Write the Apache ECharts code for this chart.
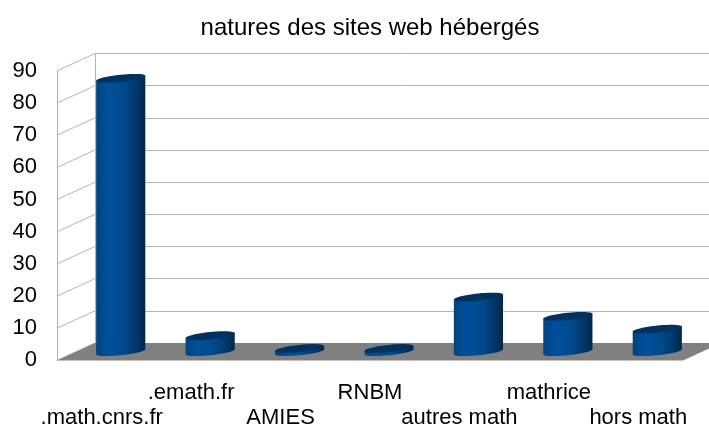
<!DOCTYPE html>
<html>
<head>
<meta charset="utf-8">
<script src="https://cdn.jsdelivr.net/npm/echarts@6/dist/echarts.min.js"></script>
<style>
    html, body {
        margin: 0;
        padding: 0;
        background: #fff;
    }
    #main {
        width: 709px;
        height: 425px;
    }
</style>
</head>
<body>
<div id="main"></div>
<script>
    var categories = ['.math.cnrs.fr', '.emath.fr', 'AMIES', 'RNBM', 'autres math', 'mathrice', 'hors math'];
    var siteCounts = [85, 5, 1, 1, 17, 11, 7];
    var yTicks = [0, 10, 20, 30, 40, 50, 60, 70, 80, 90];

    // pseudo 3D: the bars sit on the middle plane, walls/labels are shifted by half the depth
    var DX = 19, DY = 8.7;
    var MID = {left: 76, top: 62.2, width: 626, height: 289.5};
    var SHEAR = 0.102;   // tilt of the ellipses (right side higher)
    var RY = 3.6;
    var FONT = 'Liberation Sans';
    var GRID_COLOR = '#b3b3b3';

    function pt(cx, cy, rx, t) {
        return [cx + rx * Math.cos(t), cy + RY * Math.sin(t) - SHEAR * rx * Math.cos(t)];
    }

    function renderCylinder(params, api) {
        var top = api.coord([api.value(0), api.value(1)]);
        var base = api.coord([api.value(0), 0]);
        var rx = api.size([1, 0])[0] * 0.55 / 2;
        var cx = top[0];
        var i, n = 24;

        var body = [pt(cx, top[1], rx, Math.PI)];
        for (i = 0; i <= n; i++) {
            body.push(pt(cx, base[1], rx, Math.PI - Math.PI * i / n));
        }
        body.push(pt(cx, top[1], rx, 0));

        var cap = [];
        for (i = 0; i < 2 * n; i++) {
            cap.push(pt(cx, top[1], rx, Math.PI * i / n));
        }

        return {
            type: 'group',
            children: [{
                type: 'polygon',
                shape: {points: body},
                style: {
                    fill: {
                        type: 'linear', x: 0, y: 0, x2: 1, y2: 0,
                        colorStops: [
                            {offset: 0, color: '#00437f'},
                            {offset: 0.25, color: '#00509b'},
                            {offset: 0.6, color: '#00488b'},
                            {offset: 0.85, color: '#003566'},
                            {offset: 1, color: '#00264a'}
                        ]
                    }
                }
            }, {
                type: 'polygon',
                shape: {points: cap},
                style: {fill: '#00315f'}
            }]
        };
    }

    var chart = echarts.init(document.getElementById('main'));

    chart.setOption({
        animation: false,
        title: {
            text: 'natures des sites web hébergés',
            left: 365,
            top: 11,
            textAlign: 'center',
            textStyle: {
                fontFamily: FONT,
                fontSize: 24,
                fontWeight: 'normal',
                color: '#000'
            }
        },
        grid: [
            // back wall
            {left: MID.left + DX, top: MID.top - DY, width: MID.width, height: MID.height, outerBoundsMode: 'none'},
            // front edge
            {left: MID.left - DX, top: MID.top + DY, width: MID.width, height: MID.height, outerBoundsMode: 'none'},
            // middle plane (bars)
            {left: MID.left, top: MID.top, width: MID.width, height: MID.height, outerBoundsMode: 'none'}
        ],
        xAxis: [
            {gridIndex: 0, type: 'category', data: categories, show: false},
            {
                gridIndex: 1,
                type: 'category',
                data: categories,
                axisLine: {show: false},
                axisTick: {show: false},
                splitLine: {show: false},
                axisLabel: {
                    interval: 0,
                    hideOverlap: false,
                    margin: 20,
                    fontFamily: FONT,
                    fontSize: 22,
                    lineHeight: 25,
                    color: '#000',
                    formatter: function (v, idx) {
                        return idx % 2 === 1 ? v : '\n' + v;
                    }
                }
            },
            {gridIndex: 2, type: 'category', data: categories, show: false}
        ],
        yAxis: [
            {
                gridIndex: 0, type: 'value', min: 0, max: 90, interval: 10,
                axisLine: {show: true, lineStyle: {color: GRID_COLOR}},
                axisTick: {show: false},
                axisLabel: {show: false},
                splitLine: {show: true, lineStyle: {color: GRID_COLOR}}
            },
            {
                gridIndex: 1, type: 'value', min: 0, max: 90, interval: 10,
                axisLine: {show: true, lineStyle: {color: GRID_COLOR}},
                axisTick: {show: false},
                splitLine: {show: false},
                axisLabel: {
                    margin: 20,
                    padding: [9, 0, 0, 0],
                    fontFamily: FONT,
                    fontSize: 22,
                    color: '#000'
                }
            },
            {gridIndex: 2, type: 'value', min: 0, max: 90, interval: 10, show: false}
        ],
        series: [
            {
                // diagonal lines of the left side wall
                name: 'side',
                type: 'custom',
                xAxisIndex: 1,
                yAxisIndex: 1,
                z: 1,
                data: yTicks.map(function (v) { return [0, v]; }),
                renderItem: function (params, api) {
                    var p = api.coord([0, api.value(1)]);
                    var x0 = params.coordSys.x;
                    return {
                        type: 'line',
                        shape: {x1: x0, y1: p[1], x2: x0 + 2 * DX, y2: p[1] - 2 * DY},
                        style: {stroke: GRID_COLOR, lineWidth: 1}
                    };
                }
            },
            {
                name: 'floor',
                type: 'custom',
                xAxisIndex: 2,
                yAxisIndex: 2,
                z: 2,
                data: [[0, 0]],
                renderItem: function (params, api) {
                    var cs = params.coordSys;
                    var y0 = api.coord([0, 0])[1];
                    return {
                        type: 'polygon',
                        shape: {
                            points: [
                                [cs.x - DX, y0 + DY],
                                [cs.x + DX, y0 - DY],
                                [cs.x + cs.width + DX, y0 - DY],
                                [cs.x + cs.width - DX, y0 + DY]
                            ]
                        },
                        style: {fill: '#808080'}
                    };
                }
            },
            {
                name: 'sites',
                type: 'custom',
                xAxisIndex: 2,
                yAxisIndex: 2,
                z: 3,
                data: siteCounts.map(function (v, i) { return [i, v]; }),
                encode: {x: 0, y: 1},
                renderItem: renderCylinder
            }
        ]
    });
</script>
</body>
</html>
